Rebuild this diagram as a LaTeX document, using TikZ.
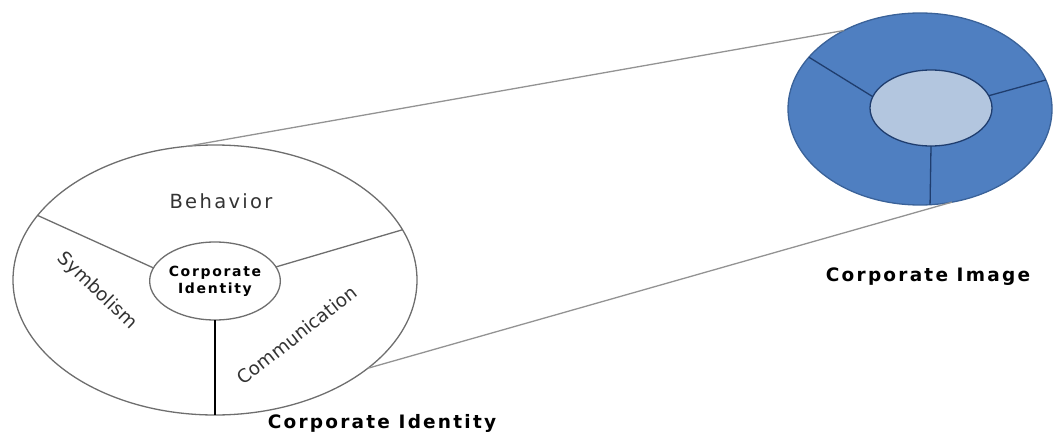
\documentclass[tikz,border=0pt]{standalone}
\usepackage{fontspec}
\setmainfont{DejaVu Sans}
\newfontfamily\ringfont[LetterSpace=12]{DejaVu Sans}
\usepackage{tikz}
\usetikzlibrary{shapes.geometric,positioning}
\definecolor{ringgray}{HTML}{6E6E6E}
\definecolor{imgblue}{HTML}{4F7FC1}
\definecolor{imgedge}{HTML}{3A6299}
\definecolor{imgcore}{HTML}{B3C6DF}
\definecolor{imgspoke}{HTML}{1F3D6E}
\tikzset{
  ring/.style={ellipse, draw=ringgray, line width=1.3pt, inner sep=0pt, outer sep=0pt},
  spoke/.style={draw=ringgray, line width=1.3pt},
  link/.style={draw=gray!85, line width=1.3pt},
  sector/.style={font=\ringfont\fontsize{19.5}{19.5}\selectfont, text=black!80},
  tilted/.style={font=\fontsize{18.5}{18.5}\selectfont, text=black!80},
  caption/.style={font=\ringfont\bfseries\fontsize{18.5}{18.5}\selectfont}
}
\begin{document}
\begin{tikzpicture}[x=1pt,y=-1pt]
\useasboundingbox (0,0) rectangle (1054,433);

%Corporate identity rings
\node[ring, fill=white, minimum width=404, minimum height=270] (idouter) at (215,280) {};
\node[ring, minimum width=124, minimum height=78, align=center,
      font=\ringfont\bfseries\fontsize{14}{17}\selectfont] (idcore) at (215,281) {Corporate\\Identity};
\draw[spoke] (idouter.160) -- (idcore.168);
\draw[spoke] (idcore.13) -- (idouter.15);
\draw[spoke, draw=black] (idcore.270) -- (idouter.270);

%Sector labels
\node[sector] (behavior) at (221,201) {Behavior};
\node[tilted, rotate=-44] (symbolism) at (97,291) {Symbolism};
\node[tilted, rotate=38] (communication) at (297,335) {Communication};

%Corporate image rings
\node[ellipse, fill=imgblue, draw=imgedge, line width=1.3pt, inner sep=0pt, outer sep=0pt,
      minimum width=264, minimum height=192] (imouter) at (920,109) {};
\node[ellipse, fill=imgcore, draw=imgspoke, line width=1.3pt, inner sep=0pt, outer sep=0pt,
      minimum width=122, minimum height=76] (imcore) at (931,108) {};
\draw[imgspoke, line width=1.3pt] (imouter.155) -- (imcore.169);
\draw[imgspoke, line width=1.3pt] (imcore.12) -- (imouter.13);
\draw[imgspoke, line width=1.3pt] (imcore.270) -- (imouter.276);

%Zoom lines
\draw[link] (idouter.102) -- (imouter.134);
\draw[link] (idouter.-30) -- (imouter.-71);

%Captions
\node[caption] (idcaption) at (382,423) {Corporate Identity};
\node[caption] (imcaption) at (928,277) {Corporate Image};
\end{tikzpicture}
\end{document}
